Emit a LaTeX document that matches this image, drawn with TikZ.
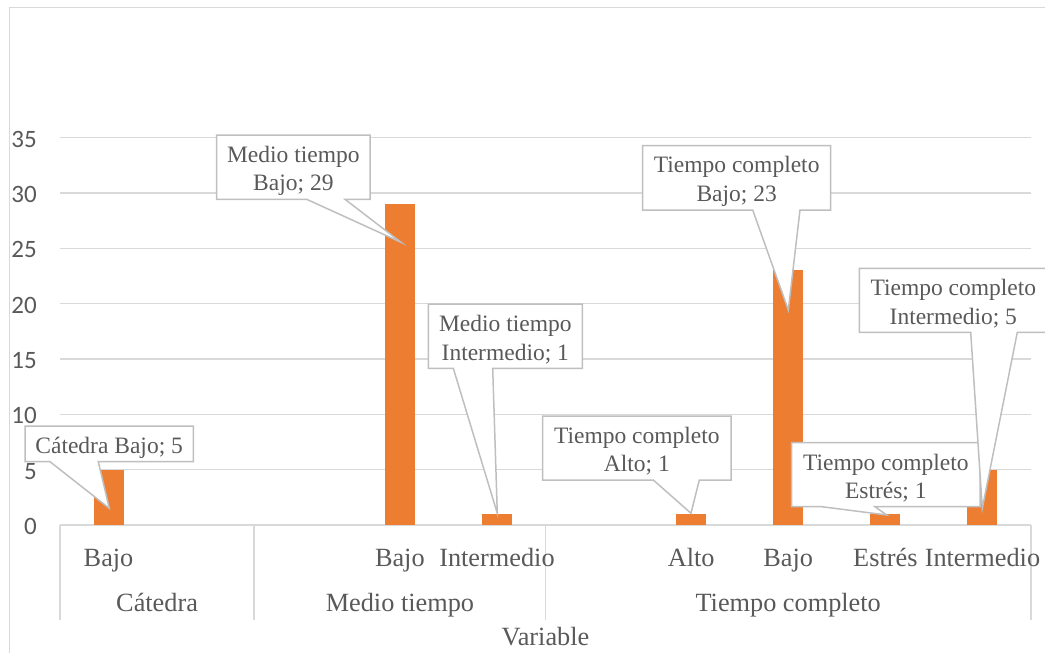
\documentclass[tikz,border=0pt]{standalone}
\usepackage{fontspec}
\setmainfont{Liberation Serif}
\newfontfamily\axisfont{Carlito}
\definecolor{txtgray}{HTML}{595959}
\definecolor{gridgray}{HTML}{D9D9D9}
\definecolor{boxgray}{HTML}{BFBFBF}
\definecolor{barorange}{HTML}{ED7D31}

\begin{document}
\begin{tikzpicture}[x=1pt, y=-1pt, line width=1.5pt,
  every node/.style={text=txtgray, inner sep=0pt},
  grid/.style={draw=gridgray},
  bar/.style={fill=barorange},
  callout/.style={draw=boxgray, fill=white},
  lbl/.style={font=\fontsize{26.3}{30}\selectfont, anchor=base},
  numlbl/.style={font=\axisfont\fontsize{25}{28}\selectfont, anchor=east, yshift=-1.5pt},
  calltxt/.style={font=\fontsize{23.5}{28.3}\selectfont, align=center, yshift=-3.5pt}]

\useasboundingbox (0,0) rectangle (1045,653);

% frame
\draw[grid] (1045,7.3) -- (9.3,7.3) -- (9.3,653);

% value axis
\foreach \val in {0,5,...,35}
{
  \draw[grid] (60,525-11.07*\val) -- (1031,525-11.07*\val);
  \node[numlbl] (y\val) at (37.5,525-11.07*\val) {\val};
}

% category separators
\foreach \x in {60,254.2,545.5,1031}
  \draw[grid] (\x,525) -- (\x,620);

% bars and leaf labels
\foreach \i/\val/\lab in {0/5/Bajo, 3/29/Bajo, 4/1/Intermedio, 6/1/Alto, 7/23/Bajo, 8/1/Estrés, 9/5/Intermedio}
{
  \fill[bar] ({60+97.1*\i+33.55},525) rectangle ++(30,-11.07*\val);
  \node[lbl] (cat\i) at ({60+97.1*(\i+0.5)},566) {\lab};
}

% group labels
\node[lbl] (gCat) at (157.1,611.7) {Cátedra};
\node[lbl] (gMed) at (399.9,611.7) {Medio tiempo};
\node[lbl] (gTC) at (788.2,611.7) {Tiempo completo};
\node[lbl] (xtitle) at (545.5,645) {Variable};

% data callouts
\foreach \nm/\xa/\ya/\xb/\yb/\pa/\pb/\tx/\ty/\txt in {
    Cat/25/426/193.3/461.7/50/98.3/109.3/508.3/{Cátedra Bajo; 5},
    MB/216.7/135/370/199.3/306.7/345/401/242.3/{Medio tiempo\\Bajo; 29},
    MI/428.3/304/582.3/368.3/453.3/492.7/497.3/513.3/{Medio tiempo\\Intermedio; 1},
    TA/542.7/416/731/480/653.3/699.3/691/513.3/{Tiempo completo\\Alto; 1},
    TB/642.7/145.7/830.7/210/752.7/800/788.3/310/{Tiempo completo\\Bajo; 23},
    TE/791.7/442.7/980/506.7/821.7/875/886.7/515/{Tiempo completo\\Estrés; 1},
    TI/859.3/268.3/1047.3/332.3/970.7/1017.3/982.3/508.3/{Tiempo completo\\Intermedio; 5}}
{
  \coordinate (tip\nm) at (\tx,\ty);
  \draw[callout] (\xa,\yb) -- (\pa,\yb) -- (tip\nm) -- (\pb,\yb) -- (\xb,\yb) -- (\xb,\ya) -- (\xa,\ya) -- cycle;
  \node[calltxt] (call\nm) at ({(\xa+\xb)/2},{(\ya+\yb)/2}) {\txt};
}
\end{tikzpicture}
\end{document}
